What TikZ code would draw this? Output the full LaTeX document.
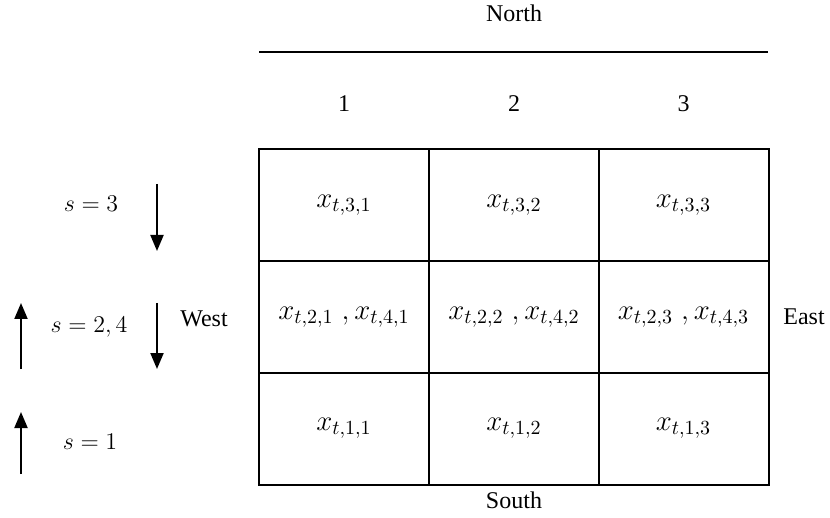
\documentclass[tikz,border=0pt]{standalone}
\usepackage{fontspec}
\setmainfont{Liberation Serif}
\usetikzlibrary{arrows.meta}
\tikzset{
  cell/.style={draw, line width=1pt, minimum width=85pt, minimum height=56pt, inner sep=0pt, font=\fontsize{14}{16}\selectfont},
  lbl/.style={inner sep=0pt, font=\fontsize{12}{14}\selectfont},
  mlbl/.style={inner sep=0pt, font=\fontsize{12.5}{14}\selectfont},
  dirarrow/.style={line width=1pt, -{Triangle[width=6.5pt,length=8pt]}},
  rule/.style={line width=1pt}
}
\begin{document}
\begin{tikzpicture}[x=0.5pt, y=-0.5pt]
\useasboundingbox (0,0) rectangle (830,518);
% cells
\node[cell] (c31) at (344,205) {$x_{t,3,1}$};
\node[cell] (c32) at (514,205) {$x_{t,3,2}$};
\node[cell] (c33) at (683.5,205) {$x_{t,3,3}$};
\node[cell] (c21) at (344,317) {$x_{t,2,1}\;, x_{t,4,1}$};
\node[cell] (c22) at (514,317) {$x_{t,2,2}\;, x_{t,4,2}$};
\node[cell] (c23) at (683.5,317) {$x_{t,2,3}\;, x_{t,4,3}$};
\node[cell] (c11) at (344,428.5) {$x_{t,1,1}$};
\node[cell] (c12) at (514,428.5) {$x_{t,1,2}$};
\node[cell] (c13) at (683.5,428.5) {$x_{t,1,3}$};
% labels
\node[lbl] (north) at (514,13) {North};
\coordinate (nl) at (259,52);
\coordinate (nr) at (768,52);
\draw[rule] (nl) -- (nr);
\node[lbl] (n1) at (344,104) {1};
\node[lbl] (n2) at (514,104) {2};
\node[lbl] (n3) at (683.5,104) {3};
\node[lbl] (south) at (514,500) {South};
\node[lbl] (east) at (804,317) {East};
\node[lbl] (west) at (204,319) {West};
\node[mlbl] (s3) at (91,204) {$s=3$};
\node[mlbl] (s24) at (89,327) {$s=2,4$};
\node[mlbl] (s1) at (90,442) {$s=1$};
% arrows
\coordinate (a3t) at (157,184);
\coordinate (a3b) at (157,251);
\coordinate (a2dt) at (157,303);
\coordinate (a2db) at (157,369);
\coordinate (a2ub) at (21,369);
\coordinate (a2ut) at (21,303);
\coordinate (a1b) at (21,474);
\coordinate (a1t) at (21,412);
\draw[dirarrow] (a3t) -- (a3b);
\draw[dirarrow] (a2dt) -- (a2db);
\draw[dirarrow] (a2ub) -- (a2ut);
\draw[dirarrow] (a1b) -- (a1t);
\end{tikzpicture}
\end{document}
